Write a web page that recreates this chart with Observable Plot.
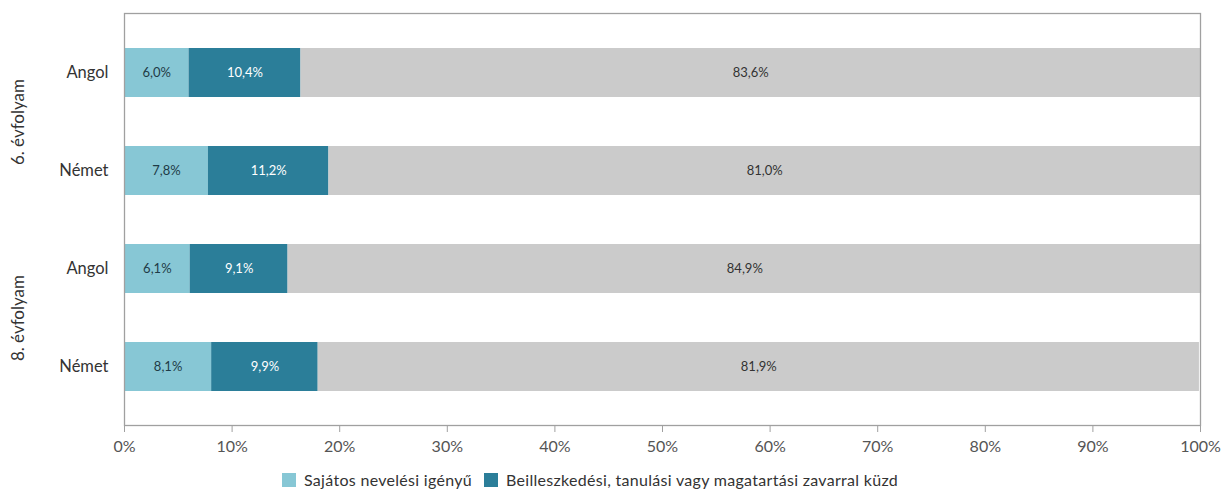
<!DOCTYPE html>
<html>
<head>
<meta charset="utf-8">
<script src="https://cdn.jsdelivr.net/npm/d3@7"></script>
<script src="https://cdn.jsdelivr.net/npm/@observablehq/plot@0.6"></script>
<style>
  body { margin: 0; background: #fff; font-family: Lato, "Open Sans", sans-serif; }
  #legend { display: flex; gap: 0; height: 27px; align-items: center; font-size: 16px; color: #333; letter-spacing: 0.3px; }
  .item { display: flex; align-items: center; }
  .sw { width: 14px; height: 14px; margin-right: 8px; }
</style>
</head>
<body>
<div id="chart"></div>
<div id="legend"></div>
<script>
// Data
const groups = ["6. évfolyam", "8. évfolyam"];
const languages = ["Angol", "Német"];
const seriesNames = ["Sajátos nevelési igényű", "Beilleszkedési, tanulási vagy magatartási zavarral küzd", "Egyéb"];
const seriesColors = ["#87c7d5", "#2b7e99", "#cbcbcb"];
const labelColors = ["#1f3b47", "#ffffff", "#333333"];
// rows: 6. Angol, 6. Német, 8. Angol, 8. Német
const sni = [6.0, 7.8, 6.1, 8.1];
const btm = [10.4, 11.2, 9.1, 9.9];
const other = [83.6, 81.0, 84.9, 81.9];
const xTicks = [0, 10, 20, 30, 40, 50, 60, 70, 80, 90, 100];

const rows = [];
groups.forEach(g => languages.forEach(l => rows.push({group: g, lang: l, key: g + "|" + l})));
const seriesValues = [sni, btm, other];
const data = [];
seriesValues.forEach((vals, si) => vals.forEach((v, ri) => data.push({
  key: rows[ri].key, series: seriesNames[si], value: v, si
})));

const width = 1224, height = 466, mt = 13, mb = 41;
const padIn = 0.5, padOut = 0.35;
const step = (height - mt - mb) / (rows.length - padIn + 2 * padOut);
const fmt = v => v.toFixed(1).replace(".", ",") + "%";

const chart = Plot.plot({
  width, height,
  marginTop: mt, marginBottom: mb, marginLeft: 124, marginRight: 24,
  style: {fontFamily: "Lato, 'Open Sans', sans-serif", fontSize: "14px", color: "#333"},
  x: {domain: [0, 100], ticks: xTicks, tickFormat: d => d + "%", label: null},
  y: {domain: rows.map(r => r.key), paddingInner: padIn, paddingOuter: padOut, label: null},
  color: {domain: seriesNames, range: seriesColors},
  marks: [
    Plot.barX(data, Plot.stackX({x: "value", y: "key", z: "series", order: seriesNames, fill: "series"})),
    Plot.text(data, Plot.stackX({x: "value", y: "key", z: "series", order: seriesNames,
      text: d => fmt(d.value), fill: d => labelColors[d.si], fontSize: 13})),
    Plot.frame({stroke: "#a0a0a0", strokeWidth: 1.3}),
    Plot.axisX({ticks: xTicks, tickFormat: d => d + "%", tickSize: 7, tickPadding: 8, stroke: "#a0a0a0", fill: "#555", fontSize: 16, label: null}),
    Plot.axisY({tickFormat: k => k.split("|")[1], tickSize: 0, tickPadding: 16, fill: "#333", fontSize: 16.5, label: null}),
    Plot.text(groups, {
      y: g => g + "|" + languages[0], dy: step / 2, frameAnchor: "left", textAnchor: "middle",
      text: d => d, rotate: -90, dx: -106, fontSize: 17, fill: "#333"
    })
  ]
});
document.getElementById("chart").appendChild(chart);

const legend = document.getElementById("legend");
[0, 1].forEach(i => {
  const it = document.createElement("div");
  it.className = "item";
  it.style.marginLeft = i === 0 ? "282px" : "12px";
  it.innerHTML = `<div class="sw" style="background:${seriesColors[i]}"></div><span>${seriesNames[i]}</span>`;
  legend.appendChild(it);
});
</script>
</body>
</html>
